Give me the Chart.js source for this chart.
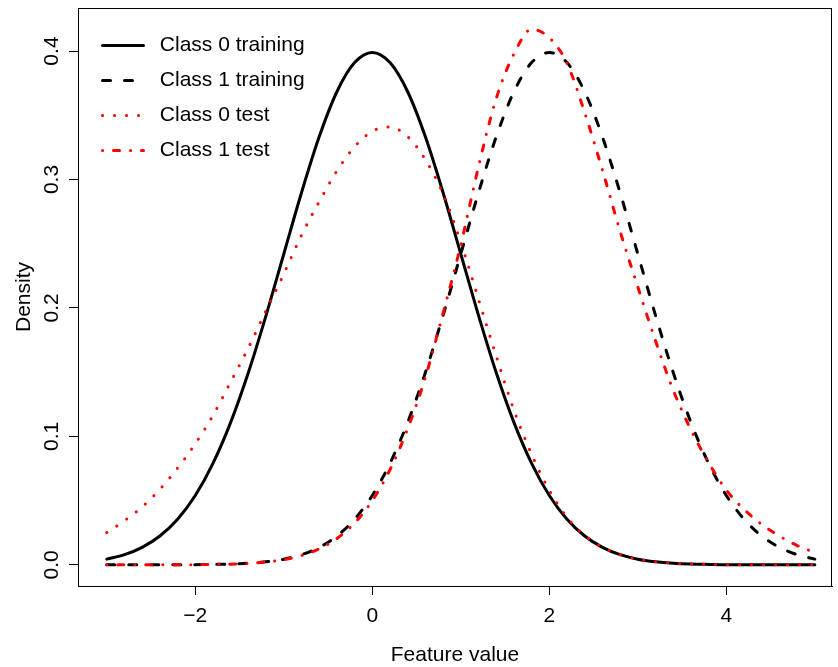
<!DOCTYPE html>
<html>
<head>
<meta charset="utf-8">
<script src="https://cdn.jsdelivr.net/npm/chart.js@4.4.0/dist/chart.umd.min.js"></script>
<style>
html, body { margin: 0; padding: 0; background: #ffffff; }
#wrap { width: 838px; height: 667px; }
</style>
</head>
<body>
<div id="wrap"><canvas id="densityChart"></canvas></div>
<script>
// values, x step 0.2
var featureValues = [-3.0, -2.8, -2.6, -2.4, -2.2, -2.0, -1.8, -1.6, -1.4, -1.2, -1.0, -0.8, -0.6, -0.4, -0.2,
    0.0, 0.2, 0.4, 0.6, 0.8, 1.0, 1.2, 1.4, 1.6, 1.8, 2.0, 2.2, 2.4, 2.6, 2.8, 3.0, 3.2, 3.4, 3.6, 3.8, 4.0, 4.2, 4.4, 4.6, 4.8, 5.0];
var class0Training = [0.0044, 0.0079, 0.0136, 0.0224, 0.0355, 0.0540, 0.0790, 0.1109, 0.1497, 0.1942, 0.2420, 0.2897, 0.3332, 0.3683, 0.3910,
    0.3989, 0.3910, 0.3683, 0.3332, 0.2897, 0.2420, 0.1942, 0.1497, 0.1109, 0.0790, 0.0540, 0.0355, 0.0224, 0.0136, 0.0079, 0.0044, 0.0024, 0.0012, 0.0006, 0.0003, 0.0001, 0.0001, 0, 0, 0, 0];
var class1Training = [0, 0, 0, 0, 0.0001, 0.0001, 0.0003, 0.0006, 0.0012, 0.0024, 0.0044, 0.0079, 0.0136, 0.0224, 0.0355,
    0.0540, 0.0790, 0.1109, 0.1497, 0.1942, 0.2420, 0.2897, 0.3332, 0.3683, 0.3910, 0.3989, 0.3910, 0.3683, 0.3332, 0.2897, 0.2420, 0.1942, 0.1497, 0.1109, 0.0790, 0.0540, 0.0355, 0.0224, 0.0136, 0.0079, 0.0044];
var class0Test = [0.0251, 0.0343, 0.0451, 0.0588, 0.0753, 0.0942, 0.1163, 0.1424, 0.1689, 0.1979, 0.2264, 0.2566, 0.2827, 0.3067, 0.3255,
    0.3375, 0.3408, 0.3333, 0.3154, 0.2887, 0.2509, 0.2068, 0.1625, 0.1205, 0.0860, 0.0580, 0.0370, 0.0228, 0.0137, 0.0079, 0.0044, 0.0024, 0.0012, 0.0006, 0.0003, 0.0001, 0.0001, 0, 0, 0, 0];
var class1Test = [0, 0, 0, 0, 0.0001, 0.0001, 0.0003, 0.0005, 0.0011, 0.0022, 0.0040, 0.0072, 0.0124, 0.0205, 0.0325,
    0.0500, 0.0740, 0.1060, 0.1460, 0.1960, 0.2490, 0.3100, 0.3630, 0.3977, 0.4169, 0.4104, 0.3905, 0.3520, 0.3074, 0.2597, 0.2163, 0.1744, 0.1360, 0.1051, 0.0795, 0.0582, 0.0432, 0.0314, 0.0224, 0.0150, 0.0095];
var seriesNames = ['Class 0 training', 'Class 1 training', 'Class 0 test', 'Class 1 test'];
var xTicks = [-2, 0, 2, 4];
var yTicks = [0.0, 0.1, 0.2, 0.3, 0.4];

var FONT = '"Liberation Sans", Arial, Helvetica, sans-serif';
var FONT_SIZE = 21;

var toPoints = function (ys) {
    return featureValues.map(function (x, i) { return { x: x, y: ys[i] }; });
};

var makeSet = function (label, ys, color, dash, order) {
    return {
        label: label,
        data: toPoints(ys),
        borderColor: color,
        backgroundColor: color,
        borderWidth: 3,
        borderDash: dash,
        borderCapStyle: 'round',
        borderJoinStyle: 'round',
        pointRadius: 0,
        fill: false,
        cubicInterpolationMode: 'monotone',
        order: order
    };
};

var frameBox = {
    id: 'frameBox',
    afterLayout: function (chart) {
        chart.legend.left += 10.5;
        chart.legend.top += 21;
    },
    afterDraw: function (chart) {
        var a = chart.chartArea;
        var ctx = chart.ctx;
        ctx.save();
        ctx.strokeStyle = '#000000';
        ctx.lineWidth = 1;
        ctx.strokeRect(a.left + 0.5, a.top + 0.5, a.right - a.left - 1, a.bottom - a.top);
        ctx.restore();
    }
};

var ctx = document.getElementById('densityChart').getContext('2d');
var densityChart = new Chart(ctx, {
    type: 'line',
    data: {
        datasets: [
            makeSet(seriesNames[0], class0Training, '#000000', [], 4),
            makeSet(seriesNames[1], class1Training, '#000000', [8, 14], 3),
            makeSet(seriesNames[2], class0Test, '#ff0000', [0.1, 11.9], 2),
            makeSet(seriesNames[3], class1Test, '#ff0000', [0.1, 10.9, 6, 11], 1)
        ]
    },
    options: {
        responsive: true,
        maintainAspectRatio: false,
        animation: false,
        layout: { padding: { top: 8, right: 6, left: 0, bottom: 0 } },
        plugins: {
            tooltip: { enabled: false },
            legend: {
                position: 'chartArea',
                align: 'start',
                labels: {
                    usePointStyle: true,
                    pointStyle: 'line',
                    pointStyleWidth: 41,
                    padding: 14,
                    color: '#000000',
                    font: { family: FONT, size: FONT_SIZE },
                    sort: function (a, b) { return a.datasetIndex - b.datasetIndex; },
                    generateLabels: function (chart) {
                        var items = Chart.defaults.plugins.legend.labels.generateLabels(chart);
                        items.forEach(function (it) {
                            var ds = chart.data.datasets[it.datasetIndex];
                            it.text = ' ' + it.text;
                            it.lineDash = ds.borderDash;
                            it.lineCap = ds.borderCapStyle;
                            it.lineWidth = ds.borderWidth;
                            it.strokeStyle = ds.borderColor;
                            it.fontColor = '#000000';
                        });
                        return items;
                    }
                }
            }
        },
        scales: {
            x: {
                type: 'linear',
                min: -3.325,
                max: 5.194,
                afterBuildTicks: function (s) {
                    s.ticks = xTicks.map(function (v) { return { value: v }; });
                },
                afterFit: function (s) {
                    s.height = 81;
                    s.paddingLeft = 0;
                    s.paddingRight = 0;
                },
                grid: { drawOnChartArea: false, drawTicks: true, tickLength: 9, color: '#000000', lineWidth: 1 },
                border: { display: true, color: '#000000', width: 1 },
                ticks: {
                    color: '#000000',
                    font: { family: FONT, size: FONT_SIZE },
                    padding: 9,
                    maxRotation: 0,
                    autoSkip: false,
                    callback: function (v) { return v < 0 ? '\u2212' + Math.abs(v) : String(v); }
                },
                title: {
                    display: true,
                    text: 'Feature value',
                    color: '#000000',
                    font: { family: FONT, size: FONT_SIZE, lineHeight: 1 },
                    padding: { top: 0, bottom: 1 }
                }
            },
            y: {
                type: 'linear',
                min: -0.0165,
                max: 0.4335,
                afterBuildTicks: function (s) {
                    s.ticks = yTicks.map(function (v) { return { value: v }; });
                },
                afterFit: function (s) {
                    s.width = 78;
                    s.paddingTop = 0;
                    s.paddingBottom = 0;
                },
                grid: { drawOnChartArea: false, drawTicks: true, tickLength: 9, color: '#000000', lineWidth: 1 },
                border: { display: true, color: '#000000', width: 1 },
                ticks: {
                    color: '#000000',
                    font: { family: FONT, size: FONT_SIZE },
                    padding: 2,
                    minRotation: 90,
                    maxRotation: 90,
                    crossAlign: 'center',
                    autoSkip: false,
                    callback: function (v) { return v.toFixed(1); }
                },
                title: {
                    display: true,
                    text: 'Density',
                    color: '#000000',
                    font: { family: FONT, size: FONT_SIZE, lineHeight: 1 },
                    padding: { top: 14, bottom: 0 }
                }
            }
        }
    },
    plugins: [frameBox]
});
</script>
</body>
</html>
